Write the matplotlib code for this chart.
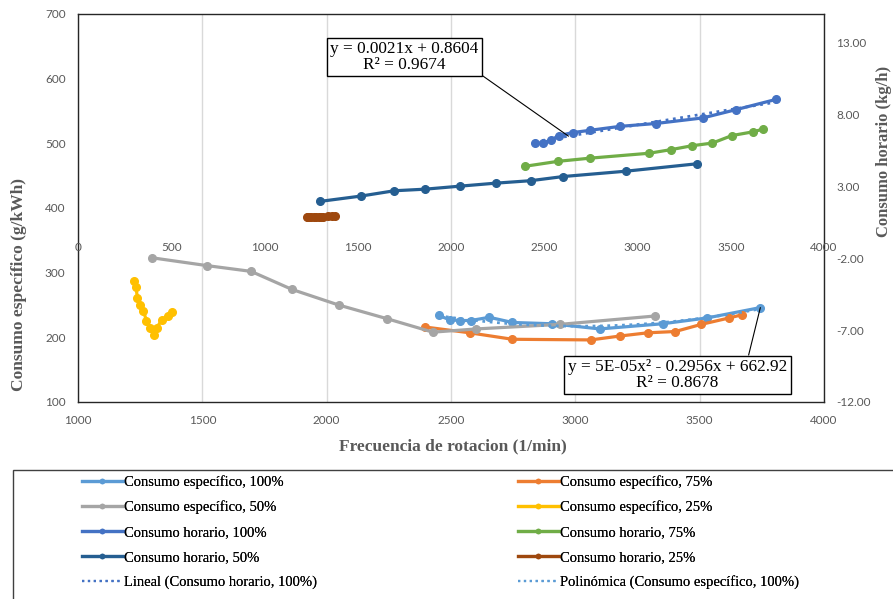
import matplotlib
matplotlib.use("Agg")
import matplotlib.pyplot as plt
from matplotlib.lines import Line2D
from matplotlib.patches import Rectangle
import numpy as np

# ---- datos ----
# consumo especifico (g/kWh) vs frecuencia (1/min)  -> eje principal
esp100_x = [2450, 2495, 2538, 2579, 2654, 2747, 2905, 3098, 3351, 3530, 3744]
esp100_y = [234, 227, 226, 226, 231, 223, 221, 213, 221, 230, 246]
esp75_x = [2395, 2575, 2747, 3062, 3179, 3291, 3402, 3506, 3619, 3671]
esp75_y = [216, 207, 197, 196, 202, 207, 209, 220, 230, 235]
esp50_x = [1298, 1517, 1696, 1861, 2048, 2241, 2427, 2602, 2937, 3321]
esp50_y = [323, 311, 302, 274, 250, 229, 208, 213, 220, 233]
esp25_x = [1226, 1233, 1239, 1251, 1263, 1275, 1290, 1304, 1316, 1338, 1360, 1377]
esp25_y = [287, 278, 261, 250, 241, 226, 215, 204, 215, 227, 233, 239]

# consumo horario (kg/h) vs frecuencia (1/min)  -> eje secundario
hor100_x = esp100_x
hor100_y = [6.02, 6.01, 6.24, 6.54, 6.75, 6.91, 7.18, 7.38, 7.77, 8.35, 9.06]
hor75_x = esp75_x
hor75_y = [4.40, 4.75, 4.97, 5.31, 5.56, 5.83, 6.02, 6.54, 6.80, 6.98]
hor50_x = esp50_x
hor50_y = [1.96, 2.33, 2.70, 2.81, 3.02, 3.23, 3.40, 3.69, 4.06, 4.58]
hor25_x = esp25_x
hor25_y = [0.90, 0.88, 0.89, 0.90, 0.88, 0.89, 0.90, 0.89, 0.90, 0.91, 0.92, 0.93]

colores = {
    "esp100": "#5B9BD5", "esp75": "#ED7D31", "esp50": "#A5A5A5", "esp25": "#FFC000",
    "hor100": "#4472C4", "hor75": "#70AD47", "hor50": "#255E91", "hor25": "#9E480E",
}

gris = "#595959"
serif = ["Liberation Serif", "DejaVu Serif"]
sans = ["Lato", "DejaVu Sans"]

W, H = 893, 599
fig = plt.figure(figsize=(W / 100, H / 100), dpi=100)
fig.patch.set_facecolor("white")

x0, x1, y0, y1 = 78, 824, 14, 402
rect = [x0 / W, 1 - y1 / H, (x1 - x0) / W, (y1 - y0) / H]
ax = fig.add_axes(rect)
ax2 = fig.add_axes(rect, frameon=False)
ax2.patch.set_visible(False)

estilo = dict(lw=2.3, marker="o", markersize=5.5, solid_capstyle="round")

# eje principal
ax.plot(esp100_x, esp100_y, color=colores["esp100"], **estilo)
ax.plot(esp75_x, esp75_y, color=colores["esp75"], **estilo)
ax.plot(esp50_x, esp50_y, color=colores["esp50"], **estilo)
ax.plot(esp25_x, esp25_y, color=colores["esp25"], **estilo)

# tendencia polinomica
cp = np.polyfit(esp100_x, esp100_y, 2)
xp = np.linspace(min(esp100_x), max(esp100_x), 100)
ax.plot(xp, np.polyval(cp, xp), color=colores["esp100"], lw=2, ls=":")

ax.set_xlim(1000, 4000)
ax.set_ylim(100, 700)
ax.set_xticks(np.arange(1000, 4001, 500))
ax.set_yticks(np.arange(100, 701, 100))
ax.grid(axis="x", color="#D9D9D9", lw=1)
ax.set_axisbelow(True)
for s in ax.spines.values():
    s.set_color("#262626")
    s.set_linewidth(1)
ax.tick_params(length=0, labelsize=8.5, labelcolor=gris, pad=9)
for lab in ax.get_xticklabels() + ax.get_yticklabels():
    lab.set_family(sans)

ax.set_xlabel("Frecuencia de rotacion (1/min)", fontsize=12.5, fontweight="bold",
              color=gris, family=serif)
ax.xaxis.set_label_coords(0.503, -0.094)
ax.set_ylabel("Consumo específico (g/kWh)", fontsize=12.5, fontweight="bold",
              color=gris, family=serif)
ax.yaxis.set_label_coords(-0.069, 0.304)

# eje secundario
ax2.plot(hor100_x, hor100_y, color=colores["hor100"], **estilo)
ax2.plot(hor75_x, hor75_y, color=colores["hor75"], **estilo)
ax2.plot(hor50_x, hor50_y, color=colores["hor50"], **estilo)
ax2.plot(hor25_x, hor25_y, color=colores["hor25"], **estilo)

cl = np.polyfit(hor100_x, hor100_y, 1)
xl = np.array([min(hor100_x), max(hor100_x)])
ax2.plot(xl, np.polyval(cl, xl), color=colores["hor100"], lw=2, ls=":")

ax2.set_xlim(0, 4000)
ax2.set_ylim(-12, 15)
ax2.set_xticks(np.arange(0, 4001, 500))
ax2.set_yticks(np.arange(-12, 14, 5))
ax2.yaxis.tick_right()
ax2.yaxis.set_label_position("right")
ax2.yaxis.set_major_formatter(matplotlib.ticker.FormatStrFormatter("%.2f"))
ax2.spines["bottom"].set_position(("data", 0))
ax2.tick_params(length=0, labelsize=8.5, labelcolor=gris, pad=9)
for lab in ax2.get_xticklabels() + ax2.get_yticklabels():
    lab.set_family(sans)
ax2.set_ylabel("Consumo horario (kg/h)", fontsize=12, fontweight="bold",
               color=gris, family=serif)
ax2.yaxis.set_label_coords(1.070, 0.647)

# etiquetas de ecuaciones
caja = dict(boxstyle="square,pad=0.2", fc="white", ec="black", lw=1)
xa = 2630
ax2.annotate("y = 0.0021x + 0.8604\nR² = 0.9674", xy=(xa, np.polyval(cl, xa)),
             xytext=(404.5 / W, 1 - 57 / H), textcoords="figure fraction",
             ha="center", va="center", fontsize=12.4, family=serif, bbox=caja,
             linespacing=1.0,
             arrowprops=dict(arrowstyle="-", color="black", lw=0.8,
                             relpos=(1.0, 0.0), shrinkA=0, shrinkB=0))
ax.annotate("y = 5E-05x² - 0.2956x + 662.92\nR² = 0.8678",
            xy=(esp100_x[-1], esp100_y[-1]),
            xytext=(677.5 / W, 1 - 375 / H), textcoords="figure fraction",
            ha="center", va="center", fontsize=12.4, family=serif, bbox=caja,
            linespacing=1.0,
            arrowprops=dict(arrowstyle="-", color="black", lw=0.8,
                            relpos=(0.82, 1.0), shrinkA=0, shrinkB=0))

# leyenda
fig.add_artist(Rectangle((13 / W, -0.01), 1, 1 - 470 / H + 0.01,
                         transform=fig.transFigure, fill=False,
                         ec="#404040", lw=1))


def h(c, ls="-"):
    if ls == "-":
        return Line2D([], [], color=c, lw=2.3, marker="o", markersize=3)
    return Line2D([], [], color=c, lw=1.6, ls=ls)


col1 = [(h(colores["esp100"]), "Consumo específico, 100%"),
        (h(colores["esp50"]), "Consumo específico, 50%"),
        (h(colores["hor100"]), "Consumo horario, 100%"),
        (h(colores["hor50"]), "Consumo horario, 50%"),
        (h(colores["hor100"], ":"), "Lineal (Consumo horario, 100%)")]
col2 = [(h(colores["esp75"]), "Consumo específico, 75%"),
        (h(colores["esp25"]), "Consumo específico, 25%"),
        (h(colores["hor75"]), "Consumo horario, 75%"),
        (h(colores["hor25"]), "Consumo horario, 25%"),
        (h(colores["esp100"], ":"), "Polinómica (Consumo específico, 100%)")]

for col, xpos in [(col1, 76), (col2, 512)]:
    leg = fig.legend([c[0] for c in col], [c[1] for c in col], loc="upper left",
                     bbox_to_anchor=(xpos / W, 1 - 469 / H), frameon=False,
                     prop={"family": serif, "size": 10.5}, handlelength=2.8,
                     handletextpad=0.1, labelspacing=0.8, borderaxespad=0)
    fig.add_artist(leg)

fig.savefig("out.png", dpi=100)
